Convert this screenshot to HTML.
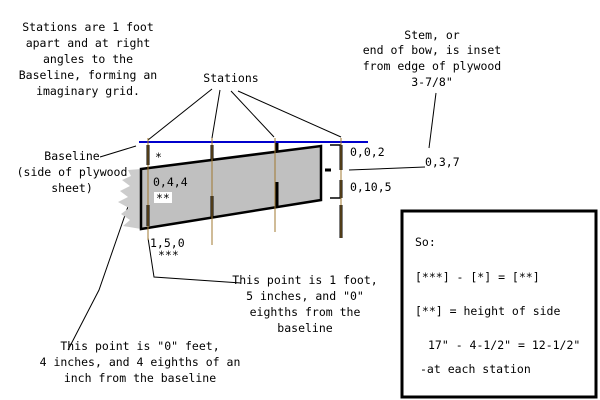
<!DOCTYPE html>
<html><head><style>
body{margin:0;background:#fff}
svg{display:block}
text{font-family:"DejaVu Sans Mono","Liberation Mono",monospace;font-size:11.5px;fill:#000}
</style></head><body>
<svg width="600" height="400" xmlns="http://www.w3.org/2000/svg">
<g text-anchor="middle">
<text x="88" y="31">Stations are 1 foot</text>
<text x="88" y="47">apart and at right</text>
<text x="88" y="63">angles to the</text>
<text x="88" y="79">Baseline, forming an</text>
<text x="88" y="95">imaginary grid.</text>
<text x="231" y="82">Stations</text>
<text x="432" y="39">Stem, or</text>
<text x="432" y="54">end of bow, is inset</text>
<text x="432" y="70">from edge of plywood</text>
<text x="432" y="86">3-7/8"</text>
<text x="72" y="160">Baseline</text>
<text x="72" y="176">(side of plywood</text>
<text x="72" y="192">sheet)</text>
<text x="305" y="284">This point is 1 foot,</text>
<text x="305" y="300">5 inches, and "0"</text>
<text x="305" y="316">eighths from the</text>
<text x="305" y="332">baseline</text>
<text x="140" y="350">This point is "0" feet,</text>
<text x="140" y="366">4 inches, and 4 eighths of an</text>
<text x="140" y="382">inch from the baseline</text>
</g>
<g stroke="#000" stroke-width="1" fill="none">
<line x1="212" y1="89" x2="148" y2="140"/>
<line x1="220" y1="90" x2="212" y2="138"/>
<line x1="231" y1="91" x2="274" y2="137"/>
<line x1="238" y1="91" x2="341" y2="137"/>
<line x1="436" y1="93" x2="429" y2="148"/>
<line x1="100" y1="157" x2="136" y2="146"/>
<polyline points="140,172 99,290 68,350"/>
<polyline points="148,238 154,277 241,283"/>
<line x1="349" y1="170" x2="425" y2="167"/>
</g>
<polygon points="141,169 128,170 131,176 122,180 130,186 120,191 128,197 118,202 129,208 121,214 130,220 123,226 141,229" fill="#cccccc"/>
<polygon points="141,169 321,146 321,200 141,229" fill="#c0c0c0" stroke="#000" stroke-width="2.5"/>
<line x1="139" y1="142" x2="368" y2="142" stroke="#0000cc" stroke-width="2"/>
<g stroke="#000" stroke-width="3">
<line x1="148" y1="145" x2="148" y2="165"/>
<line x1="148" y1="205" x2="148" y2="226"/>
<line x1="212" y1="145" x2="212" y2="160"/>
<line x1="212" y1="196" x2="212" y2="218"/>
<line x1="277" y1="143" x2="277" y2="152"/>
<line x1="277" y1="182" x2="277" y2="206"/>
<line x1="341" y1="145" x2="341" y2="170"/>
<line x1="341" y1="180" x2="341" y2="198"/>
<line x1="341" y1="205" x2="341" y2="238"/>
<line x1="325" y1="170" x2="331" y2="170"/>
</g>
<g stroke="#000" stroke-width="1.5" fill="none">
<polyline points="330,145 341,145"/>
<polyline points="330,198 341,198"/>
</g>
<g stroke="#a07830" stroke-width="1">
<line x1="148" y1="138" x2="148" y2="240"/>
<line x1="212" y1="138" x2="212" y2="245"/>
<line x1="275" y1="138" x2="275" y2="232"/>
<line x1="341" y1="138" x2="341" y2="238"/>
</g>
<rect x="154" y="192" width="18" height="11" fill="#fff"/>
<text x="155" y="161">*</text>
<text x="153" y="186">0,4,4</text>
<text x="156" y="202">**</text>
<text x="150" y="247">1,5,0</text>
<text x="158" y="259">***</text>
<text x="350" y="156">0,0,2</text>
<text x="425" y="166">0,3,7</text>
<text x="350" y="191">0,10,5</text>
<rect x="402" y="211" width="194" height="186" fill="#fff" stroke="#000" stroke-width="3"/>
<text x="415" y="246">So:</text>
<text x="415" y="281">[***] - [*] = [**]</text>
<text x="415" y="315">[**] = height of side</text>
<text x="428" y="349">17" - 4-1/2" = 12-1/2"</text>
<text x="420" y="373">-at each station</text>
</svg>
</body></html>
